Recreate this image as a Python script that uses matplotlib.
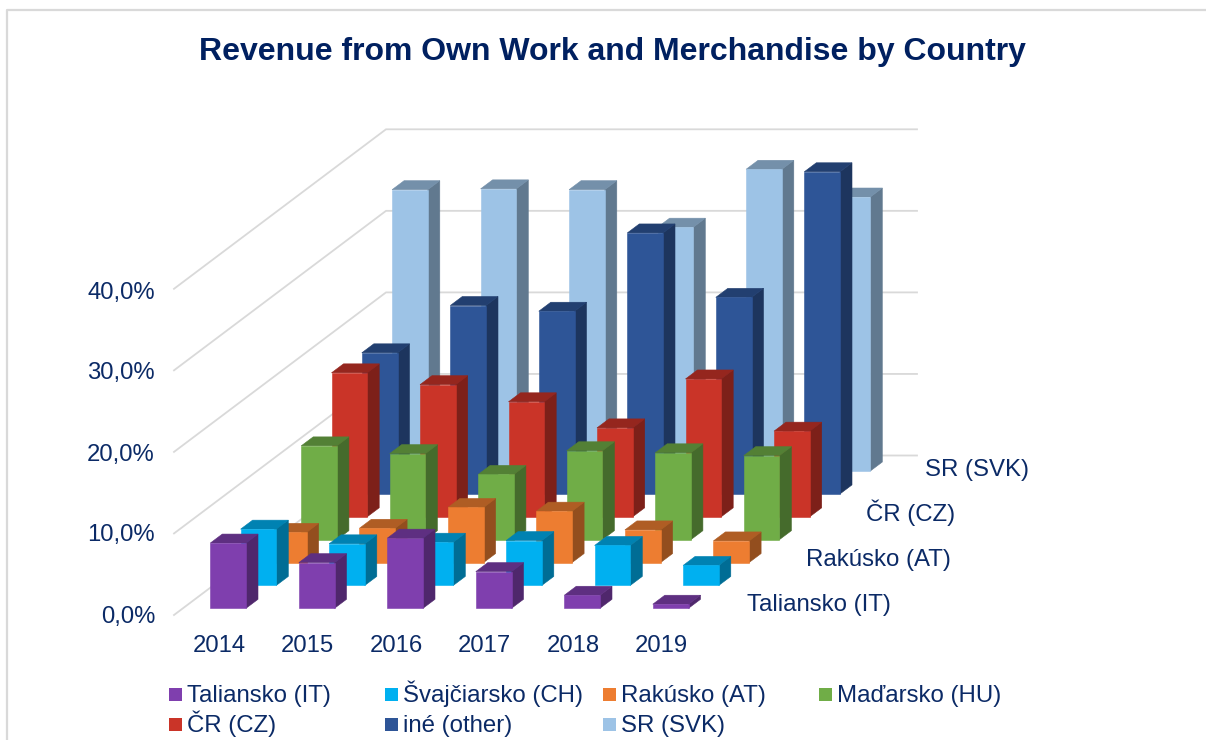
import matplotlib
matplotlib.use('Agg')
import matplotlib.pyplot as plt
from matplotlib.patches import Polygon, Rectangle
from matplotlib.colors import to_rgb

plt.rcParams['font.family'] = ['Liberation Sans', 'DejaVu Sans']

years = ['2014', '2015', '2016', '2017', '2018', '2019']
axis_ticks = [0, 10, 20, 30, 40]
tick_labels = ['0,0%', '10,0%', '20,0%', '30,0%', '40,0%']

# series from front to back, values in percent
series_names = ['Taliansko (IT)', 'Švajčiarsko (CH)', 'Rakúsko (AT)', 'Maďarsko (HU)',
                'ČR (CZ)', 'iné (other)', 'SR (SVK)']
series_colours = ['#7F3FAE', '#00B0F0', '#ED7D31', '#70AD47', '#CA3428', '#2E5597', '#9DC3E6']
italy = [8.0, 5.6, 8.6, 4.5, 1.6, 0.5]
swiss = [6.9, 5.1, 5.3, 5.5, 4.9, 2.45]
austria = [3.7, 4.2, 6.75, 6.3, 4.0, 2.65]
hungary = [11.5, 10.55, 8.0, 10.9, 10.65, 10.3]
czech = [17.65, 16.2, 14.1, 10.9, 16.9, 10.5]
other = [17.3, 23.1, 22.4, 32.0, 24.1, 39.5]
slovakia = [34.5, 34.6, 34.5, 29.9, 37.0, 33.6]
all_values = [italy, swiss, austria, hungary, czech, other, slovakia]

# depth axis labels, only every second series is named
depth_labels = [(0, 'Taliansko (IT)'), (2, 'Rakúsko (AT)'), (4, 'ČR (CZ)'), (6, 'SR (SVK)')]

TEXT = '#0B2A66'
GRID = '#D9D9D9'

# oblique projection, all in image pixels
PX_VALUE = 8.155
BAR_W = 35.7
SIDE_X, SIDE_Y = 12, -9


def project(cat, row, value):
    x = 210.3 + 88.5 * cat + 30.3 * row
    y = 608.3 - 22.88 * row - value * PX_VALUE
    return x, y


def draw_bar(ax, cat, row, value, colour, z):
    x0, y0 = project(cat, row, 0)
    _, y1 = project(cat, row, value)
    x1 = x0 + BAR_W
    rgb = to_rgb(colour)
    side = tuple(c * 0.62 for c in rgb)
    top = tuple(c * 0.74 for c in rgb)
    front = [(x0, y0), (x1, y0), (x1, y1), (x0, y1)]
    right = [(x1, y0), (x1 + SIDE_X, y0 + SIDE_Y), (x1 + SIDE_X, y1 + SIDE_Y), (x1, y1)]
    roof = [(x0, y1), (x1, y1), (x1 + SIDE_X, y1 + SIDE_Y), (x0 + SIDE_X, y1 + SIDE_Y)]
    for pts, c in [(right, side), (roof, top), (front, rgb)]:
        ax.add_patch(Polygon(pts, closed=True, facecolor=c, edgecolor=c, linewidth=0.4, zorder=z))


fig = plt.figure(figsize=(12.06, 7.4), dpi=100)
ax = fig.add_axes([0, 0, 1, 1])
ax.set_xlim(0, 1206)
ax.set_ylim(740, 0)
ax.axis('off')

# chart frame, cut by the image edge
ax.plot([6.5, 6.5, 1206], [740, 10, 10], color=GRID, lw=1.6, zorder=1)

# walls
for t in axis_ticks:
    y_front = 615 - t * PX_VALUE
    y_back = y_front - 159.5
    ax.plot([174, 386, 917], [y_front, y_back, y_back], color=GRID, lw=1.3, zorder=1)

for t, lab in zip(axis_ticks, tick_labels):
    ax.text(155, 622.5 - t * 8.1, lab, ha='right', va='baseline', fontsize=17.2, color=TEXT)

# back row first so the front rows cover it
for row in range(len(all_values) - 1, -1, -1):
    for cat, v in enumerate(all_values[row]):
        draw_bar(ax, cat, row, v, series_colours[row], 10 + (6 - row))

for cat, lab in enumerate(years):
    ax.text(219 + 88.5 * cat, 652, lab, ha='center', va='baseline', fontsize=17.2, color=TEXT)

for row, lab in depth_labels:
    ax.text(747 + 29.7 * row, 611.5 - 22.6 * row, lab, ha='left', va='baseline', fontsize=17.3, color=TEXT)

ax.text(612, 60, 'Revenue from Own Work and Merchandise by Country', ha='center', va='baseline',
        fontsize=23, fontweight='bold', color='#002060')

# legend, four columns
legend_x = [169, 385, 603, 819]
for i, (name, c) in enumerate(zip(series_names, series_colours)):
    x = legend_x[i % 4]
    y = 688 + 30 * (i // 4)
    ax.add_patch(Rectangle((x, y), 13, 13, facecolor=c, edgecolor='none', zorder=5))
    ax.text(x + 18, y + 14, name, ha='left', va='baseline', fontsize=17.3, color=TEXT)

plt.savefig('out.png', dpi=100)
